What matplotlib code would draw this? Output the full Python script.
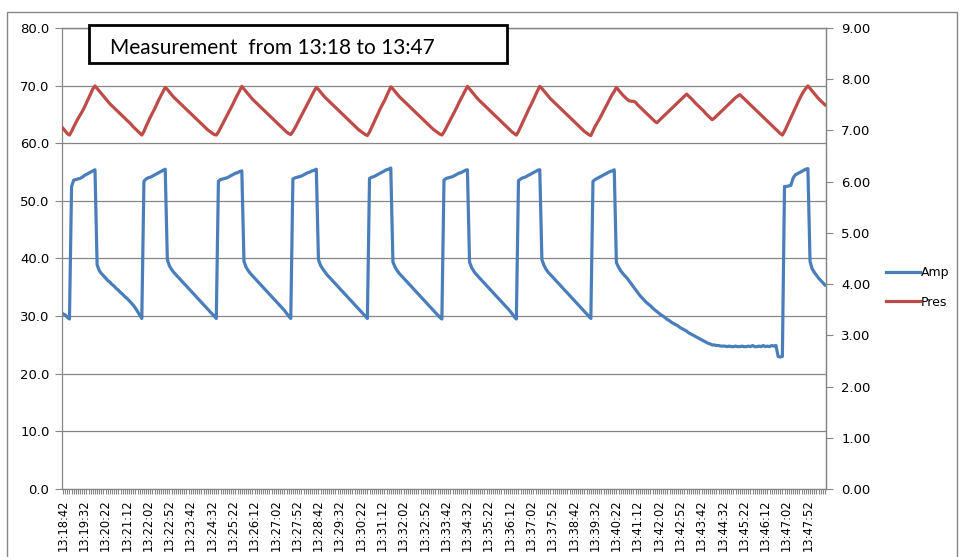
import numpy as np
import matplotlib
matplotlib.use("Agg")
import matplotlib.pyplot as plt
from matplotlib.patches import Rectangle
from matplotlib.ticker import FormatStrFormatter

plt.rcParams['font.family'] = ['DejaVu Sans']

# x axis labels (one every 10 samples, samples every 5 s)
tick_labels = ["13:18:42", "13:19:32", "13:20:22", "13:21:12", "13:22:02", "13:22:52",
               "13:23:42", "13:24:32", "13:25:22", "13:26:12", "13:27:02", "13:27:52",
               "13:28:42", "13:29:32", "13:30:22", "13:31:12", "13:32:02", "13:32:52",
               "13:33:42", "13:34:32", "13:35:22", "13:36:12", "13:37:02", "13:37:52",
               "13:38:42", "13:39:32", "13:40:22", "13:41:12", "13:42:02", "13:42:52",
               "13:43:42", "13:44:32", "13:45:22", "13:46:12", "13:47:02", "13:47:52"]

# Amp (left axis)
amp = [
    30.4, 30.2, 29.8, 29.5,
    # cycle 1
    52.5, 53.6, 53.7, 53.8, 53.9, 54.1, 54.4, 54.6, 54.8, 55.0, 55.2, 55.4,
    38.9, 37.9, 37.4, 37.0, 36.6, 36.2, 35.9, 35.5, 35.2, 34.8, 34.5, 34.1, 33.8, 33.4, 33.1,
    32.7, 32.3, 31.9, 31.4, 30.8, 30.2, 29.6,
    # cycle 2
    53.4, 53.8, 54.0, 54.1, 54.3, 54.5, 54.7, 54.9, 55.1, 55.3, 55.5,
    39.8, 38.7, 38.1, 37.6, 37.2, 36.8, 36.4, 36.0, 35.6, 35.2, 34.8, 34.4, 34.0, 33.6, 33.2,
    32.8, 32.4, 32.0, 31.6, 31.2, 30.8, 30.4, 30.0, 29.6,
    # cycle 3
    53.4, 53.7, 53.8, 53.9, 54.0, 54.2, 54.4, 54.6, 54.8, 54.9, 55.1, 55.2,
    39.5, 38.5, 37.9, 37.4, 37.0, 36.6, 36.2, 35.8, 35.4, 35.0, 34.6, 34.2, 33.8, 33.4, 33.0,
    32.6, 32.2, 31.8, 31.4, 31.0, 30.5, 30.0, 29.6,
    # cycle 4
    53.8, 54.0, 54.1, 54.2, 54.3, 54.5, 54.7, 54.9, 55.0, 55.2, 55.3, 55.5,
    39.8, 38.8, 38.2, 37.7, 37.2, 36.8, 36.4, 36.0, 35.6, 35.2, 34.8, 34.4, 34.0, 33.6, 33.2,
    32.8, 32.4, 32.0, 31.6, 31.2, 30.8, 30.4, 30.0, 29.6,
    # cycle 5
    53.9, 54.1, 54.2, 54.4, 54.6, 54.8, 55.0, 55.2, 55.4, 55.5, 55.7,
    39.4, 38.5, 37.9, 37.4, 37.0, 36.6, 36.2, 35.8, 35.4, 35.0, 34.6, 34.2, 33.8, 33.4, 33.0,
    32.6, 32.2, 31.8, 31.4, 31.0, 30.6, 30.2, 29.8, 29.5,
    # cycle 6
    53.6, 53.9, 54.0, 54.1, 54.2, 54.4, 54.6, 54.8, 54.9, 55.1, 55.3, 55.4,
    39.4, 38.4, 37.8, 37.3, 36.9, 36.5, 36.1, 35.7, 35.3, 34.9, 34.5, 34.1, 33.7, 33.3, 32.9,
    32.5, 32.1, 31.7, 31.3, 30.9, 30.4, 29.9, 29.5,
    # cycle 7
    53.5, 53.8, 54.0, 54.1, 54.3, 54.5, 54.7, 54.9, 55.1, 55.3, 55.4,
    39.8, 38.8, 38.1, 37.6, 37.2, 36.8, 36.4, 36.0, 35.6, 35.2, 34.8, 34.4, 34.0, 33.6, 33.2,
    32.8, 32.4, 32.0, 31.6, 31.2, 30.8, 30.4, 30.0, 29.6,
    # cycle 8 + long idle
    53.4, 53.7, 53.9, 54.1, 54.3, 54.5, 54.7, 54.9, 55.1, 55.2, 55.4,
    39.3, 38.5, 37.9, 37.4, 37.0, 36.6, 36.1, 35.6, 35.1, 34.6,
    34.1, 33.6, 33.2, 32.8, 32.4, 32.1, 31.8, 31.4, 31.1, 30.8,
    30.5, 30.2, 30.0, 29.7, 29.4, 29.2, 28.9, 28.7, 28.5, 28.3,
    28.0, 27.8, 27.6, 27.4, 27.1, 26.9, 26.7, 26.5, 26.3, 26.1,
    25.9, 25.7, 25.5, 25.3, 25.2, 25.0, 25.0, 24.9, 24.9, 24.8,
    24.8, 24.8, 24.7, 24.8, 24.7, 24.7, 24.8, 24.7, 24.7, 24.8,
    24.7, 24.7, 24.8, 24.7, 24.9, 24.7, 24.7, 24.8, 24.7, 24.9,
    24.7, 24.8, 24.7, 24.9, 24.8, 24.9,
    23.0, 22.9, 23.0,
    # cycle 9
    52.5, 52.5, 52.6, 52.7, 53.9, 54.5, 54.7, 54.9, 55.1, 55.3, 55.5, 55.6,
    39.5, 38.2, 37.6, 37.1, 36.6, 36.2, 35.8, 35.4,
]

# Pres (right axis)
pres = [
    7.04, 6.99, 6.94, 6.91,
    6.98, 7.07, 7.15, 7.23, 7.30, 7.37, 7.45, 7.54, 7.63, 7.72, 7.81, 7.87,
    7.82, 7.77, 7.72, 7.67, 7.62, 7.57, 7.52, 7.48, 7.44, 7.40, 7.36, 7.32, 7.28, 7.24, 7.20,
    7.16, 7.12, 7.07, 7.03, 6.99, 6.95, 6.91,
    6.98, 7.08, 7.17, 7.26, 7.34, 7.42, 7.51, 7.60, 7.68, 7.76, 7.84,
    7.80, 7.75, 7.70, 7.65, 7.61, 7.57, 7.53, 7.49, 7.45, 7.41, 7.37, 7.33, 7.29, 7.25, 7.21,
    7.17, 7.13, 7.09, 7.05, 7.01, 6.98, 6.95, 6.92, 6.91,
    6.97, 7.05, 7.13, 7.21, 7.29, 7.37, 7.45, 7.53, 7.62, 7.70, 7.78, 7.86,
    7.81, 7.76, 7.71, 7.66, 7.61, 7.57, 7.53, 7.49, 7.45, 7.41, 7.37, 7.33, 7.29, 7.25, 7.21,
    7.17, 7.13, 7.09, 7.05, 7.01, 6.97, 6.94, 6.92,
    6.98, 7.05, 7.13, 7.21, 7.29, 7.37, 7.45, 7.53, 7.61, 7.69, 7.77, 7.84,
    7.80, 7.75, 7.70, 7.65, 7.61, 7.57, 7.53, 7.49, 7.45, 7.41, 7.37, 7.33, 7.29, 7.25, 7.21,
    7.17, 7.13, 7.09, 7.05, 7.01, 6.98, 6.95, 6.92, 6.90,
    6.97, 7.06, 7.15, 7.24, 7.33, 7.42, 7.50, 7.58, 7.67, 7.76, 7.85,
    7.81, 7.76, 7.71, 7.66, 7.62, 7.58, 7.54, 7.50, 7.46, 7.42, 7.38, 7.34, 7.30, 7.26, 7.22,
    7.18, 7.14, 7.10, 7.06, 7.02, 6.99, 6.96, 6.93, 6.91,
    6.97, 7.05, 7.13, 7.21, 7.29, 7.37, 7.45, 7.54, 7.62, 7.70, 7.78, 7.86,
    7.81, 7.76, 7.71, 7.66, 7.61, 7.57, 7.53, 7.49, 7.45, 7.41, 7.37, 7.33, 7.29, 7.25, 7.21,
    7.17, 7.13, 7.09, 7.05, 7.01, 6.97, 6.94, 6.91,
    6.98, 7.07, 7.16, 7.25, 7.34, 7.43, 7.51, 7.60, 7.69, 7.78, 7.86,
    7.82, 7.77, 7.72, 7.67, 7.62, 7.58, 7.54, 7.50, 7.46, 7.42, 7.38, 7.34, 7.30, 7.26, 7.22,
    7.18, 7.14, 7.10, 7.06, 7.02, 6.98, 6.95, 6.92, 6.90,
    6.99, 7.08, 7.15, 7.22, 7.30, 7.38, 7.46, 7.54, 7.62, 7.70, 7.76,
    7.84,
    7.79, 7.74, 7.69, 7.65, 7.61, 7.58, 7.57, 7.57, 7.55,
    7.50, 7.46, 7.42, 7.38, 7.34, 7.30, 7.26, 7.22, 7.18, 7.15,
    7.19, 7.23, 7.27, 7.31, 7.35, 7.39, 7.43, 7.47, 7.51, 7.55, 7.59, 7.63, 7.67, 7.71,
    7.67, 7.63, 7.59, 7.54, 7.50, 7.46, 7.42, 7.38, 7.33, 7.29, 7.25, 7.21,
    7.24, 7.28, 7.32, 7.36, 7.40, 7.44, 7.48, 7.52, 7.56, 7.60, 7.64, 7.67, 7.70,
    7.66, 7.62, 7.58, 7.54, 7.50, 7.46, 7.42, 7.38, 7.34, 7.30, 7.26, 7.22, 7.18, 7.14, 7.10,
    7.06, 7.02, 6.98, 6.94, 6.91,
    6.98, 7.07, 7.16, 7.25, 7.34, 7.43, 7.52, 7.61, 7.69, 7.76, 7.82, 7.87,
    7.82, 7.77, 7.72, 7.67, 7.62, 7.58, 7.54, 7.50,
]

assert len(amp) == len(pres), (len(amp), len(pres))

W, H = 964, 557
grid_c = "#868686"
blue = "#4A7EBB"
red = "#BE4B48"

x = np.arange(len(amp))

fig = plt.figure(figsize=(W / 100, H / 100), dpi=100)
ax = fig.add_axes([62 / W, 1 - 489 / H, (826 - 62) / W, (489 - 28) / H])
ax2 = ax.twinx()

l1, = ax.plot(x, amp, color=blue, lw=2.3, solid_joinstyle="round")
l2, = ax2.plot(x, pres, color=red, lw=2.3, solid_joinstyle="round")

# left axis
ax.set_ylim(0, 80)
ax.set_yticks(np.arange(0, 81, 10))
ax.yaxis.set_major_formatter(FormatStrFormatter("%.1f"))
ax.grid(axis="y", color=grid_c, lw=0.9)
ax.set_axisbelow(True)

# right axis
ax2.set_ylim(0, 9)
ax2.set_yticks(np.arange(0, 10, 1))
ax2.yaxis.set_major_formatter(FormatStrFormatter("%.2f"))

# category axis
ax.set_xlim(-0.5, len(amp) - 0.5)
ax.set_xticks(np.arange(len(tick_labels)) * 10)
ax.set_xticklabels(tick_labels, rotation=90, fontsize=8.3)
ax.set_xticks(x, minor=True)

ax.tick_params(axis="y", length=5, color=grid_c, pad=4, labelsize=9.5)
ax.tick_params(axis="x", which="both", length=3.5, width=0.8, color=grid_c, pad=4)
ax2.tick_params(axis="y", length=5, color=grid_c, pad=6, labelsize=9.5)

for a in (ax, ax2):
    for s in a.spines.values():
        s.set_color(grid_c)
        s.set_linewidth(0.9)
ax2.spines["left"].set_visible(False)
ax2.spines["bottom"].set_visible(False)

# legend
fig.legend([l1, l2], ["Amp", "Pres"], loc="center left",
           bbox_to_anchor=(886 / W, 1 - 287.5 / H), frameon=False, fontsize=9,
           handlelength=2.7, handletextpad=0.1, labelspacing=1.3,
           borderpad=0, borderaxespad=0)

# chart area border
fig.add_artist(Rectangle((7 / W, -0.02), (957 - 7) / W, 1.02 - 11.7 / H,
                         transform=fig.transFigure, fill=False, ec=grid_c, lw=1))

# text box
fig.add_artist(Rectangle((89 / W, 1 - 62.7 / H), (506.7 - 89) / W, (62.7 - 25) / H,
                         transform=fig.transFigure, fc="white", ec="black", lw=2, zorder=5))
fig.text(110 / W, 1 - 48 / H, "Measurement  from 13:18 to 13:47", fontsize=15,
         family=["Lato", "DejaVu Sans"], va="center", zorder=6)

fig.savefig("out.png", dpi=100)
